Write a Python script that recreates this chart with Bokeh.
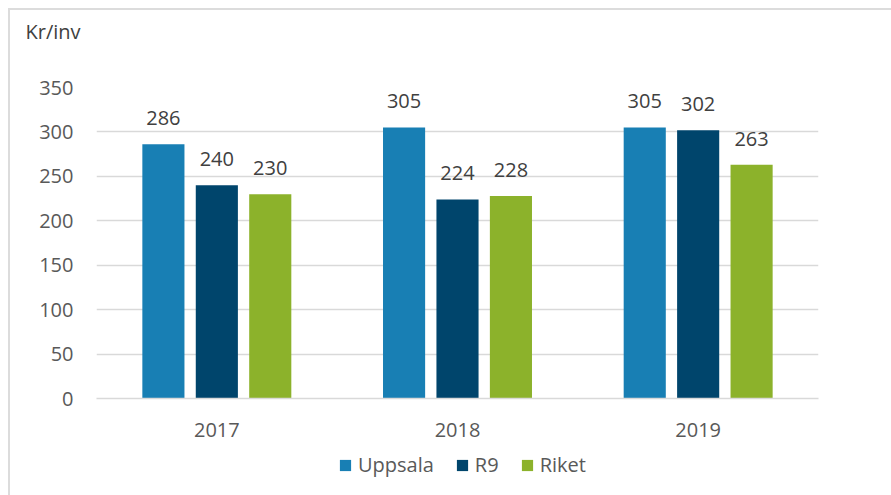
from bokeh.plotting import figure
from bokeh.layouts import column
from bokeh.models import (ColumnDataSource, FactorRange, Range1d, FixedTicker, Legend,
                          LegendItem, LabelSet)
from bokeh.core.properties import value
from bokeh.transform import dodge
from bokeh.embed import file_html
from bokeh.resources import INLINE

# ---- data ----
years = ["2017", "2018", "2019"]
series = ["Uppsala", "R9", "Riket"]
uppsala = [286, 305, 305]
r9 = [240, 224, 302]
riket = [230, 228, 263]
y_ticks = [0, 50, 100, 150, 200, 250, 300, 350]
y_label = "Kr/inv"

colors = {"Uppsala": "#187fb4", "R9": "#00456c", "Riket": "#8cb22b"}
FONT = "Open Sans"

src = ColumnDataSource(dict(
    year=years, Uppsala=uppsala, R9=r9, Riket=riket,
    Uppsala_t=[str(v) for v in uppsala],
    R9_t=[str(v) for v in r9],
    Riket_t=[str(v) for v in riket],
))

xr = FactorRange(*years, range_padding=0)

# header strip holding the unit title
p0 = figure(x_range=xr, y_range=Range1d(0, 1), width=881, height=46,
            output_backend="svg", toolbar_location=None,
            x_axis_location=None, y_axis_location=None,
            min_border_left=86, min_border_right=73, min_border_top=36, min_border_bottom=0)
p0.outline_line_color = None
p0.grid.grid_line_color = None
p0.border_fill_color = "white"
p0.title.text = y_label
p0.title.align = "left"
p0.title.offset = -71
p0.title.standoff = 4
p0.title.text_font = FONT
p0.title.text_font_size = "20px"
p0.title.text_font_style = "normal"
p0.title.text_color = "#404040"

p = figure(x_range=xr, y_range=Range1d(0, 350),
           width=881, height=389, output_backend="svg", toolbar_location=None,
           min_border_left=86, min_border_right=73, min_border_top=31, min_border_bottom=47)
p.outline_line_color = None
p.background_fill_color = "white"
p.border_fill_color = "white"

offsets = [-0.222, 0.0, 0.222]
for s, off in zip(series, offsets):
    p.vbar(x=dodge("year", off, range=xr), top=s, width=0.175, source=src,
           fill_color=colors[s], line_color=None)
    lbl = LabelSet(x=dodge("year", off, range=xr), y=s, text=s + "_t", source=src,
                   text_align="center", text_baseline="bottom", y_offset=19,
                   text_font=value(FONT), text_font_size=value("20px"), text_color="#404040")
    p.add_layout(lbl)

# axes
p.yaxis.ticker = FixedTicker(ticks=y_ticks)
p.yaxis.axis_line_color = None
p.yaxis.major_tick_line_color = None
p.yaxis.minor_tick_line_color = None
p.yaxis.major_label_standoff = 17
p.yaxis.major_label_text_font = FONT
p.yaxis.major_label_text_font_size = "20px"
p.yaxis.major_label_text_color = "#595959"

p.xaxis.axis_line_color = "#d9d9d9"
p.xaxis.axis_line_width = 1.5
p.xaxis.major_tick_line_color = None
p.xaxis.minor_tick_line_color = None
p.xaxis.major_label_standoff = 18
p.xaxis.major_label_text_font = FONT
p.xaxis.major_label_text_font_size = "20px"
p.xaxis.major_label_text_color = "#595959"

p.xgrid.grid_line_color = None
p.ygrid.grid_line_color = "#d9d9d9"
p.ygrid.grid_line_width = 1.5

# legend strip below the chart
p2 = figure(x_range=xr, y_range=Range1d(1000, 2000), width=881, height=50,
            output_backend="svg", toolbar_location=None,
            x_axis_location=None, y_axis_location=None,
            min_border_left=86, min_border_right=73, min_border_top=0, min_border_bottom=0)
p2.outline_line_color = None
p2.grid.grid_line_color = None
p2.border_fill_color = "white"
items = []
for s, off in zip(series, offsets):
    r = p2.vbar(x=dodge("year", off, range=xr), top=s, width=0.175, source=src,
                fill_color=colors[s], line_color=None)
    items.append(LegendItem(label=s, renderers=[r]))

legend = Legend(items=items, orientation="horizontal", location=(242, 17),
                glyph_width=14, glyph_height=14, label_standoff=6, spacing=21,
                label_text_font=FONT, label_text_font_size="20px", label_text_color="#595959",
                border_line_color=None, background_fill_alpha=0, padding=0, margin=0)
p2.add_layout(legend, "center")

layout = column(p0, p, p2, spacing=0, margin=(8, 0, 0, 8),
                styles={"border-top": "2px solid #dcdcdc", "border-left": "2px solid #dcdcdc"})

open("out.html", "w").write(file_html(layout, INLINE))
